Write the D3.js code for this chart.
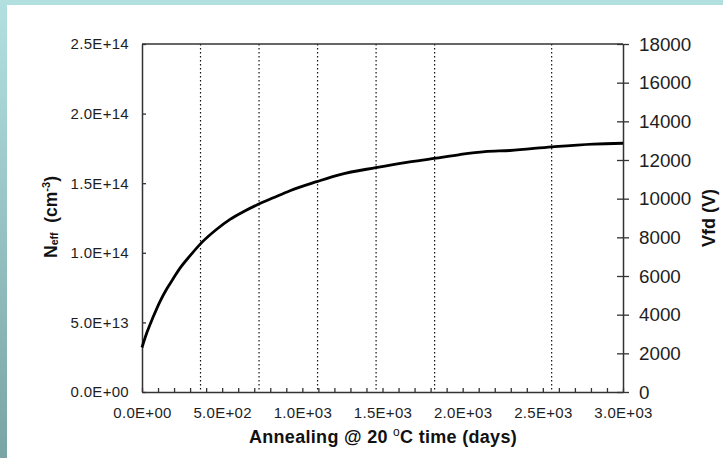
<!DOCTYPE html>
<html>
<head>
<meta charset="utf-8">
<script src="https://cdn.jsdelivr.net/npm/d3@7"></script>
<style>
  html, body { margin: 0; padding: 0; background: #fff; }
  svg { display: block; font-family: "Liberation Sans", Arial, sans-serif; }
</style>
</head>
<body>
<svg id="chart" width="723" height="458"></svg>
<script>
// Annealing time in days and the effective doping concentration Neff (cm^-3)
const days = [0, 30, 70, 112, 154, 195, 237, 299, 372, 466, 549, 632, 719, 819, 923,
              1090, 1235, 1459, 1651, 1823, 1983, 2139, 2295, 2555, 2815, 3000];
const neff = [3.2e13, 4.25e13, 5.4e13, 6.5e13, 7.4e13, 8.15e13, 8.9e13, 9.78e13, 1.073e14,
              1.169e14, 1.240e14, 1.295e14, 1.345e14, 1.395e14, 1.446e14, 1.511e14,
              1.562e14, 1.612e14, 1.650e14, 1.678e14, 1.706e14, 1.727e14, 1.735e14,
              1.761e14, 1.781e14, 1.787e14];

// Reference times (1, 2, 3, 4, 5 and 7 years) marked by dotted verticals
const markYears = [1, 2, 3, 4, 5, 7];

// Axis ticks and their labels
const xTickValues = [0, 500, 1000, 1500, 2000, 2500, 3000];
const xTickLabels = ["0.0E+00", "5.0E+02", "1.0E+03", "1.5E+03", "2.0E+03", "2.5E+03", "3.0E+03"];
const xMinorStep = 100;
const leftTickValues = [0, 5e13, 1e14, 1.5e14, 2e14, 2.5e14];
const leftTickLabels = ["0.0E+00", "5.0E+13", "1.0E+14", "1.5E+14", "2.0E+14", "2.5E+14"];
const rightTickValues = [0, 2000, 4000, 6000, 8000, 10000, 12000, 14000, 16000, 18000];
const rightTickLabels = ["0", "2000", "4000", "6000", "8000", "10000", "12000", "14000", "16000", "18000"];

const W = 723, H = 458;
const plot = { left: 142, right: 623, top: 44, bottom: 392 };
const axisColor = "#333";
const labelColor = "#1e1e1e";

const svg = d3.select("#chart");

// Page background with the tinted frame along the top and left edges
const defs = svg.append("defs");
const grad = defs.append("linearGradient")
  .attr("id", "edgeGrad").attr("x1", 0).attr("y1", 0).attr("x2", 0).attr("y2", 1);
grad.append("stop").attr("offset", "0%").attr("stop-color", "#b2e0e1");
grad.append("stop").attr("offset", "100%").attr("stop-color", "#7ba4a4");

svg.append("rect").attr("width", W).attr("height", H).attr("fill", "#fff");
svg.append("rect").attr("x", 0).attr("y", 0).attr("width", W).attr("height", 5).attr("fill", "#b2e0e1");
svg.append("rect").attr("x", 0).attr("y", 0).attr("width", 7).attr("height", H).attr("fill", "url(#edgeGrad)");

// Scales
const x = d3.scaleLinear().domain([0, 3000]).range([plot.left, plot.right]);
const yL = d3.scaleLinear().domain([0, 2.5e14]).range([plot.bottom, plot.top]);
const yR = d3.scaleLinear().domain([0, 18000]).range([plot.bottom, plot.top]);

// Dotted reference lines
svg.append("g").selectAll("line")
  .data(markYears)
  .join("line")
  .attr("x1", d => x(d * 365)).attr("x2", d => x(d * 365))
  .attr("y1", plot.top).attr("y2", plot.bottom)
  .attr("stroke", "#111").attr("stroke-width", 1.2)
  .attr("stroke-dasharray", "1.6,2.4");

// Top border of the plot area
svg.append("line")
  .attr("x1", plot.left).attr("x2", plot.right)
  .attr("y1", plot.top).attr("y2", plot.top)
  .attr("stroke", axisColor).attr("stroke-width", 1.5);

function styleAxis(g, fontSize, spacing) {
  g.select(".domain").attr("stroke", axisColor).attr("stroke-width", 1.5);
  g.selectAll(".tick line").attr("stroke", axisColor).attr("stroke-width", 1.3);
  g.selectAll(".tick text")
    .attr("fill", labelColor)
    .style("font-size", fontSize + "px")
    .style("letter-spacing", spacing + "px")
    .style("font-family", "'Liberation Sans', Arial, sans-serif");
}

// Bottom axis: minor ticks every 100 days pointing inward, labels every 500
const xAllTicks = d3.range(0, 3000 + xMinorStep, xMinorStep);
const gx = svg.append("g")
  .attr("transform", `translate(0,${plot.bottom})`)
  .call(d3.axisBottom(x)
    .tickValues(xAllTicks)
    .tickFormat(d => {
      const i = xTickValues.indexOf(d);
      return i >= 0 ? xTickLabels[i] : "";
    })
    .tickSizeInner(-4).tickSizeOuter(0).tickPadding(15.5));
styleAxis(gx, 15, 0.3);

// Left axis (Neff)
const gl = svg.append("g")
  .attr("transform", `translate(${plot.left},0)`)
  .call(d3.axisLeft(yL)
    .tickValues(leftTickValues)
    .tickFormat((d, i) => leftTickLabels[i])
    .tickSizeInner(-4).tickSizeOuter(0).tickPadding(13));
styleAxis(gl, 15, 0.3);

// Right axis (Vfd) with ticks crossing the axis line
const gr = svg.append("g")
  .attr("transform", `translate(${plot.right},0)`)
  .call(d3.axisRight(yR)
    .tickValues(rightTickValues)
    .tickFormat((d, i) => rightTickLabels[i])
    .tickSizeInner(6).tickSizeOuter(0).tickPadding(10));
styleAxis(gr, 18.8, 0);
gr.selectAll(".tick").append("line")
  .attr("x1", -6).attr("x2", 0)
  .attr("stroke", axisColor).attr("stroke-width", 1.3);

// Neff curve
const line = d3.line()
  .x((d, i) => x(days[i]))
  .y(d => yL(d))
  .curve(d3.curveMonotoneX);
svg.append("path")
  .datum(neff)
  .attr("d", line)
  .attr("fill", "none")
  .attr("stroke", "#000")
  .attr("stroke-width", 2.8)
  .attr("stroke-linejoin", "round");

// Axis titles
const xt = svg.append("text")
  .attr("x", 383).attr("y", 443)
  .attr("text-anchor", "middle")
  .attr("fill", "#111")
  .style("font-weight", "bold").style("font-size", "18px")
  .style("letter-spacing", "0.3px");
xt.append("tspan").text("Annealing @ 20 ");
xt.append("tspan").attr("dy", -7).style("font-size", "12px").style("font-weight", "normal").text("o");
xt.append("tspan").attr("dy", 7).text("C time (days)");

const lt = svg.append("text")
  .attr("transform", `translate(57,${(plot.top + plot.bottom) / 2 - 1}) rotate(-90)`)
  .attr("text-anchor", "middle")
  .attr("fill", "#111")
  .style("font-weight", "bold").style("font-size", "17.5px");
lt.append("tspan").text("N");
lt.append("tspan").attr("dy", 1).style("font-size", "10.5px").text("eff");
lt.append("tspan").attr("dy", -1).text("\u00a0 (cm");
lt.append("tspan").attr("dy", -7).style("font-size", "11px").text("-3");
lt.append("tspan").attr("dy", 7).text(")");

svg.append("text")
  .attr("transform", `translate(714.5,${(plot.top + plot.bottom) / 2}) rotate(-90)`)
  .attr("text-anchor", "middle")
  .attr("fill", "#111")
  .style("font-weight", "bold").style("font-size", "18px")
  .text("Vfd (V)");
</script>
</body>
</html>
